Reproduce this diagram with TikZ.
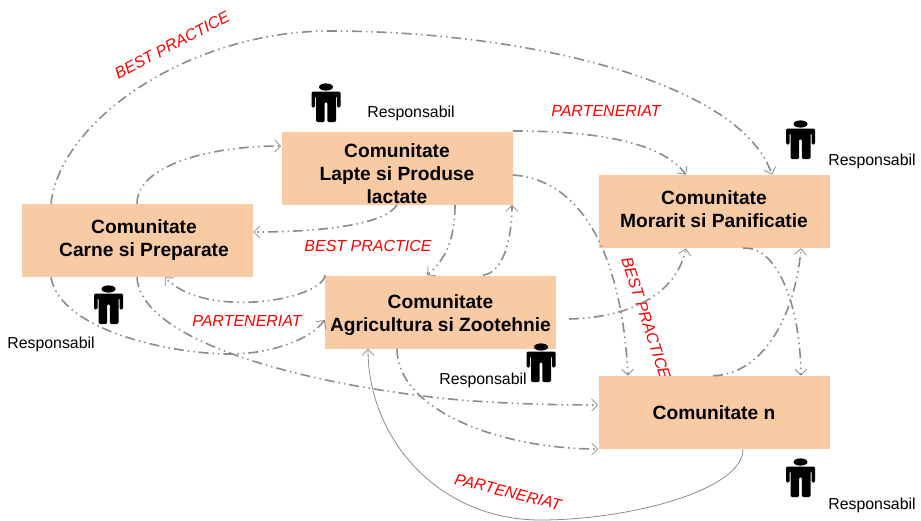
\documentclass[tikz,border=0pt]{standalone}
\usepackage{fontspec}
\setmainfont{Liberation Sans}
\usetikzlibrary{arrows.meta}
\definecolor{boxfill}{HTML}{F9CBA5}
\definecolor{linkgray}{HTML}{8C8C8C}
\tikzset{
  commbox/.style={fill=boxfill, minimum width=173.25pt, minimum height=54.75pt, inner sep=0pt},
  boxtext/.style={align=center, inner sep=0pt, font=\fontsize{14.4}{17.25}\selectfont\bfseries},
  link/.style={draw=linkgray, line width=1.2pt, dash pattern=on 7.5pt off 3pt on 1.1pt off 3pt on 1.1pt off 3pt, -{Straight Barb[length=4.5pt,width=9pt,line width=.6pt]}},
  thinlink/.style={draw=linkgray, line width=.6pt, -{Straight Barb[length=4.5pt,width=9pt,line width=.6pt]}},
  redtag/.style={text=red, inner sep=0pt, font=\fontsize{12}{14}\selectfont\itshape},
  resp/.style={inner sep=0pt, font=\fontsize{11.9}{14}\selectfont},
  person/.pic={
    \fill (0,4) ellipse [x radius=7, y radius=3.6];
    \fill[rounded corners=1pt] (-14.5,8.5) -- (14.5,8.5) -- (14.5,24.5) -- (11,24.5) -- (11,13) -- (10,13) -- (10,39) -- (1.3,39) -- (1.3,19) -- (-1.3,19) -- (-1.3,39) -- (-10,39) -- (-10,13) -- (-11,13) -- (-11,24.5) -- (-14.5,24.5) -- cycle;
  }
}
\begin{document}
\begin{tikzpicture}[x=0.75pt,y=-0.75pt]
  \useasboundingbox (0,0) rectangle (921,521);
  % label under the box
  \node (tagbestc) [redtag, rotate=-72] at (646,318) {BEST PRACTICE};

  \node (carne) [commbox] at (137.5,240.5) {};
  \node (carnetext) [boxtext] at (144,240.5) {Comunitate\\Carne si Preparate};
  \node (lapte) [commbox] at (397,168) {};
  \node (laptetext) [boxtext] at (397,174) {Comunitate\\Lapte si Produse\\lactate};
  \node (morarit) [commbox] at (714,211.5) {};
  \node (morarittext) [boxtext] at (714,209.5) {Comunitate\\Morarit si Panificatie};
  \node (agri) [commbox] at (440.5,312) {};
  \node (agritext) [boxtext] at (440.5,315.5) {Comunitate\\Agricultura si Zootehnie};
  \node (commn) [commbox] at (714,412.5) {};
  \node (commntext) [boxtext] at (714,413) {Comunitate n};

  % links
  \draw[link] (51,0 |- carne.north) .. controls (60,120) and (190,31) .. (330,31) .. controls (520,31) and (740,80) .. (772,0 |- morarit.north);
  \draw[link] (137,0 |- carne.north) .. controls (137,165) and (210,146) .. (lapte.west |- 0,146);
  \draw[link] (397,0 |- lapte.south) .. controls (385,225) and (320,232) .. (carne.east |- 0,232);
  \draw[link] (lapte.east |- 0,131) .. controls (590,131) and (660,140) .. (686,0 |- morarit.north);
  \draw[link] (lapte.east |- 0,175) .. controls (585,180) and (622,260) .. (628,0 |- commn.north);
  \draw[link] (455,0 |- lapte.south) .. controls (455,240) and (445,260) .. (427,0 |- agri.north);
  \draw[link] (483,0 |- agri.north) .. controls (505,272) and (512,235) .. (512,0 |- lapte.south);
  \draw[link] (325,0 |- agri.north) .. controls (322,300) and (205,320) .. (165,0 |- carne.south);
  \draw[link] (51,0 |- carne.south) .. controls (60,330) and (170,354) .. (230,354) .. controls (270,354) and (310,340) .. (agri.west |- 0,320);
  \draw[link] (137,0 |- carne.south) .. controls (140,340) and (300,385) .. (460,400) .. controls (510,404) and (560,405) .. (commn.west |- 0,405);
  \draw[link] (397,0 |- agri.south) .. controls (397,410) and (500,449) .. (commn.west |- 0,449);
  \draw[thinlink] (743,0 |- commn.south) .. controls (743,490) and (630,520) .. (540,520) .. controls (440,520) and (368,440) .. (368,0 |- agri.south);
  \draw[link] (569,319) .. controls (620,318) and (675,300) .. (686,0 |- morarit.south);
  \draw[link] (743,0 |- morarit.south) .. controls (775,245) and (800,300) .. (801,0 |- commn.north);
  \draw[link] (713,0 |- commn.north) .. controls (760,375) and (795,320) .. (801,0 |- morarit.south);

  % labels
  \node (tagbesta) [redtag, rotate=28] at (172,45) {BEST PRACTICE};
  \node (tagbestb) [redtag] at (368,246) {BEST PRACTICE};
  \node (tagparta) [redtag] at (606,111) {PARTENERIAT};
  \node (tagpartb) [redtag] at (247,321) {PARTENERIAT};
  \node (tagpartc) [redtag, rotate=-14] at (508,492) {PARTENERIAT};

  % persons
  \pic at (326,83) {person};
  \pic at (800.5,120) {person};
  \pic at (108.5,285) {person};
  \pic at (541,343) {person};
  \pic at (800.5,458) {person};
  \node (respl) [resp] at (411,113) {Responsabil};
  \node (respm) [resp] at (872,161) {Responsabil};
  \node (respc) [resp] at (51,344) {Responsabil};
  \node (respa) [resp] at (483,380) {Responsabil};
  \node (respn) [resp] at (872,505) {Responsabil};
\end{tikzpicture}
\end{document}
